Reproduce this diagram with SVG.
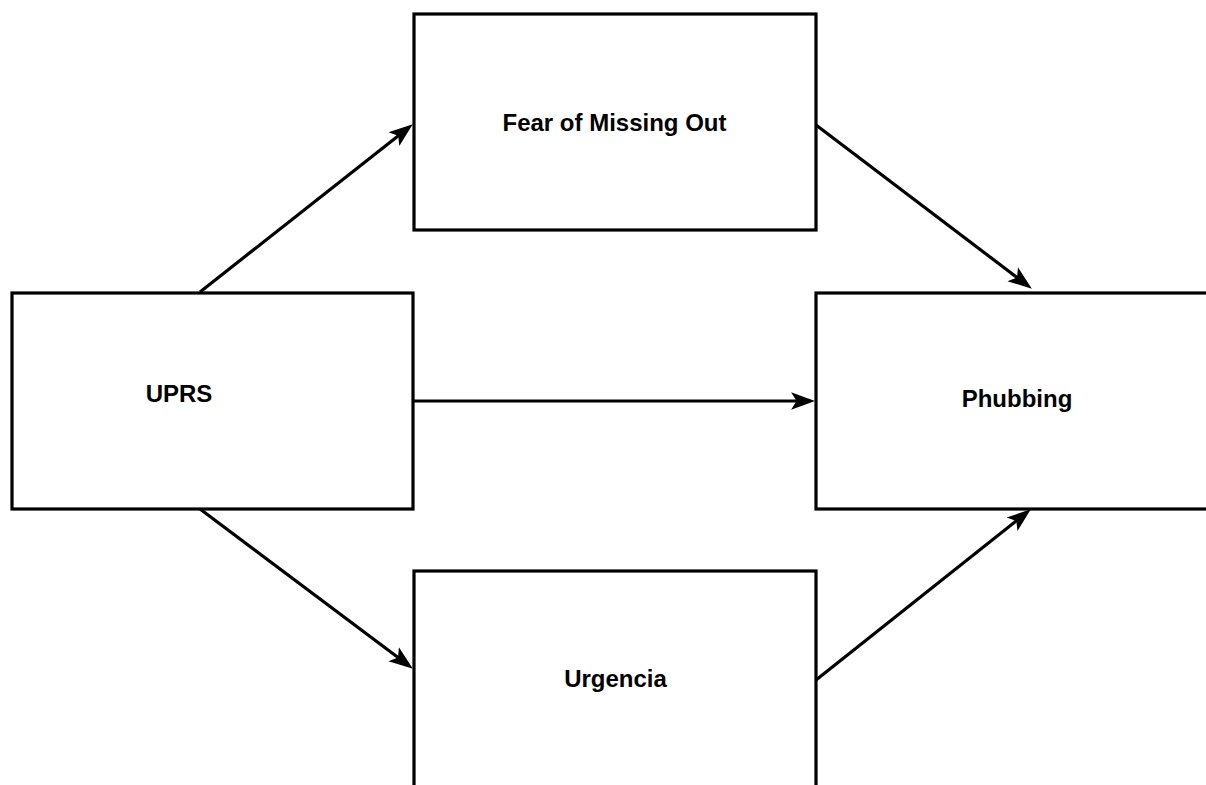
<svg xmlns="http://www.w3.org/2000/svg" width="1206" height="785" viewBox="0 0 1206 785">
<style>
.box{fill:#fff;stroke:#000;stroke-width:3.2}
.lbl{font-family:"Liberation Sans",Arial,sans-serif;font-size:24px;font-weight:bold;fill:#000;text-anchor:middle}
.edge{stroke:#000;stroke-width:3.2;fill:none;marker-end:url(#ah)}
</style>
<defs>
<marker id="ah" markerUnits="userSpaceOnUse" markerWidth="24" markerHeight="20" refX="10" refY="8" orient="auto" viewBox="0 0 22 16">
<path d="M0,0 L22,8 L0,16 L5,8 Z" fill="#000"/>
</marker>
</defs>
<rect width="1206" height="785" fill="#fff"/>
<g id="connectors">
<line class="edge" x1="200" y1="292" x2="402.5" y2="132.4"/>
<line class="edge" x1="816" y1="125" x2="1021.4" y2="280.8"/>
<line class="edge" x1="413" y1="401" x2="802" y2="401"/>
<line class="edge" x1="200" y1="509" x2="402.4" y2="660.8"/>
<line class="edge" x1="816" y1="680" x2="1020.6" y2="517.5"/>
</g>
<g id="uprs">
<rect class="box" x="12" y="293" width="401" height="216"/>
<text class="lbl" x="179" y="402">UPRS</text>
</g>
<g id="fomo">
<rect class="box" x="414" y="14" width="402" height="216"/>
<text class="lbl" x="614.5" y="131">Fear of Missing Out</text>
</g>
<g id="phubbing">
<rect class="box" x="816" y="293" width="400" height="216"/>
<text class="lbl" x="1017" y="407">Phubbing</text>
</g>
<g id="urgencia">
<rect class="box" x="414" y="571" width="402" height="230"/>
<text class="lbl" x="615.5" y="687">Urgencia</text>
</g>
</svg>
